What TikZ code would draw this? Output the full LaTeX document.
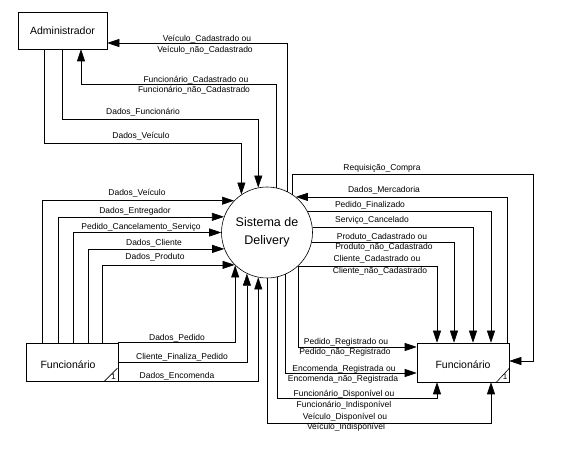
\documentclass[tikz,border=0pt]{standalone}
\usepackage{fontspec}
\setmainfont{Liberation Sans}
\usetikzlibrary{arrows.meta}
\begin{document}
\begin{tikzpicture}[x=1pt,y=-1pt,
  conn/.style={line width=0.6pt},
  arr/.style={conn,-{Triangle[length=12pt,width=8pt]}},
  lbl/.style={font=\fontsize{8.5}{9}\selectfont, inner sep=0pt},
  box/.style={draw, line width=0.6pt, inner sep=0pt, font=\fontsize{10.5}{12}\selectfont},
  proc/.style={draw, circle, line width=0.6pt, minimum size=91pt, inner sep=0pt, font=\fontsize{12.5}{18}\selectfont, align=center},
  cornernum/.style={font=\fontsize{8}{9}\selectfont, inner sep=0pt}]
\useasboundingbox (0,0) rectangle (582,465);
\fill[white] (0,0) rectangle (582,465);

% nodes
\node[box, minimum width=89pt, minimum height=37pt] (adm) at (62.5,30.5) {Administrador};
\node[proc] (sd) at (267,232.5) {Sistema de\\Delivery};
\node[box, minimum width=92pt, minimum height=38pt] (fl) at (72,362) {};
\node[font=\fontsize{10.5}{12}\selectfont] (flt) at (68,365) {Funcionário};
\node[box, minimum width=92pt, minimum height=39pt] (fr) at (463,362.5) {};
\node[font=\fontsize{10.5}{12}\selectfont] (frt) at (463,365) {Funcionário};

% corner marks
\draw[conn] ([xshift=-14pt]fl.south east) -- ([xshift=-1pt,yshift=13pt]fl.south east);
\node[cornernum] (fl1) at (113.5,377) {1};
\draw[conn] ([xshift=-13pt]fr.south east) -- ([yshift=14pt]fr.south east);
\node[cornernum] (fr1) at (505,377) {1};

% Administrador <-> Sistema
\draw[arr] (sd.63.9) |- ([yshift=-12.5pt]adm.east);
\draw[arr] (sd.78.6) -- ++(0,-103.1) -| ([xshift=18.5pt]adm.south);
\draw[arr] (adm.south) -- ++(0,70) -| (sd.101.4);
\draw[arr] ([xshift=-18.5pt]adm.south) -- ++(0,94) -| (sd.124.85);

\node[lbl] (l1) at (207,39) {Veículo\_Cadastrado ou};
\node[lbl] (l2) at (205,50) {Veículo\_não\_Cadastrado};
\node[lbl] (l3) at (196,80) {Funcionário\_Cadastrado ou};
\node[lbl] (l4) at (194,90) {Funcionário\_não\_Cadastrado};
\node[lbl] (l5) at (143,112) {Dados\_Funcionário};
\node[lbl] (l6) at (141,136) {Dados\_Veículo};

% left Funcionario -> Sistema
\draw[arr] ([xshift=-30pt]fl.north) |- (sd.136.2);
\draw[arr] ([xshift=-14pt]fl.north) |- (sd.160.1);
\draw[arr] ([xshift=1pt]fl.north) |- (sd.180.6);
\draw[arr] ([xshift=16pt]fl.north) |- (sd.201.3);
\draw[arr] ([xshift=30pt]fl.north) |- (sd.225.6);
\draw[arr] (fl.north east) -| (sd.-134.7);
\draw[arr] (fl.east) -| (sd.-116.1);
\draw[arr] (fl.south east) -| (sd.-101.4);

\node[lbl] (m1) at (137,193) {Dados\_Veículo};
\node[lbl] (m2) at (135,211) {Dados\_Entregador};
\node[lbl] (m3) at (141,227) {Pedido\_Cancelamento\_Serviço};
\node[lbl] (m4) at (154,243) {Dados\_Cliente};
\node[lbl] (m5) at (155,257) {Dados\_Produto};
\node[lbl] (m6) at (177,338) {Dados\_Pedido};
\node[lbl] (m7) at (182,357) {Cliente\_Finaliza\_Pedido};
\node[lbl] (m8) at (177,376) {Dados\_Encomenda};

% Sistema <-> right Funcionario
\draw[arr] (sd.56.7) |- (533,174) |- ([yshift=1.5pt]fr.east);
\draw[arr] ([xshift=44pt]fr.north) |- (sd.51.3);
\draw[arr] (sd.28.2) -| ([xshift=28pt]fr.north);
\draw[arr] (sd.6.94) -| ([xshift=10pt]fr.north);
\draw[arr] (sd.-13.3) -| ([xshift=-9pt]fr.north);
\draw[arr] (sd.-47.05) -| ([xshift=-26pt]fr.north);
\draw[arr] (sd.-47.05) |- ([yshift=15.5pt]fr.west);
\draw[arr] (sd.-66.7) |- ([yshift=-10.5pt]fr.west);
\draw[arr] (sd.-77.3) -- ++(0,121.1) -| ([xshift=-26pt]fr.south);
\draw[arr] (sd.-90) -- ++(0,145) -| ([xshift=28pt]fr.south);

\node[lbl] (r1) at (382,168) {Requisição\_Compra};
\node[lbl] (r2) at (384,190) {Dados\_Mercadoria};
\node[lbl] (r3) at (370,205) {Pedido\_Finalizado};
\node[lbl] (r4) at (372,220) {Serviço\_Cancelado};
\node[lbl] (r5) at (382,237) {Produto\_Cadastrado ou};
\node[lbl] (r6) at (384,247) {Produto\_não\_Cadastrado};
\node[lbl] (r7) at (377,259) {Cliente\_Cadastrado ou};
\node[lbl] (r8) at (380,271) {Cliente\_não\_Cadastrado};
\node[lbl] (b1) at (346,342) {Pedido\_Registrado ou};
\node[lbl] (b2) at (345,352) {Pedido\_não\_Registrado};
\node[lbl] (b3) at (344,369) {Encomenda\_Registrada ou};
\node[lbl] (b4) at (343,379) {Encomenda\_não\_Registrada};
\node[lbl] (b5) at (344,394) {Funcionário\_Disponível ou};
\node[lbl] (b6) at (344,405) {Funcionário\_Indisponível};
\node[lbl] (b7) at (345,417) {Veículo\_Disponível ou};
\node[lbl] (b8) at (346,427) {Veículo\_Indisponível};
\end{tikzpicture}
\end{document}
